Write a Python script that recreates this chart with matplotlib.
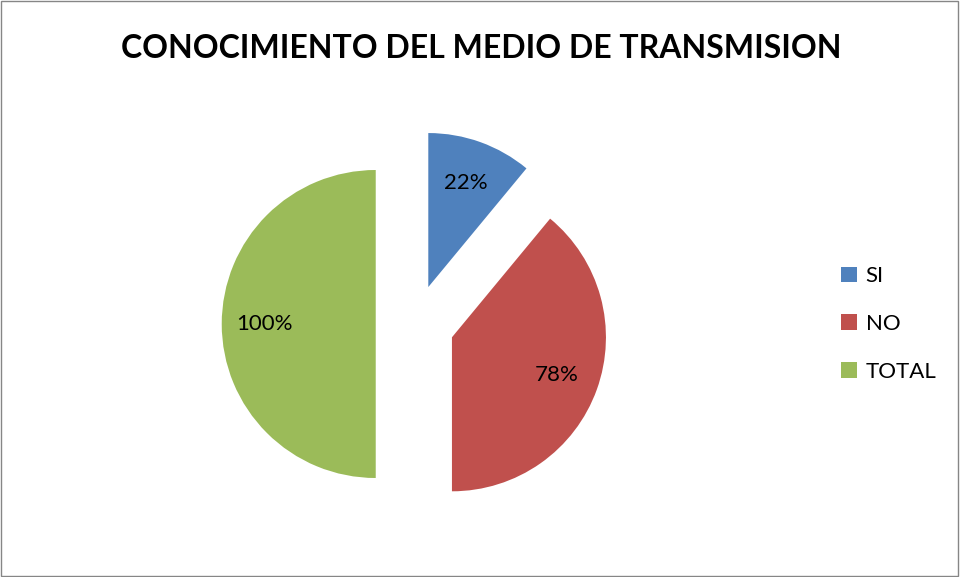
import matplotlib
matplotlib.use('Agg')
import matplotlib.pyplot as plt
from matplotlib.patches import Rectangle

plt.rcParams['font.family'] = ['Lato', 'DejaVu Sans']

titulo = 'CONOCIMIENTO DEL MEDIO DE TRANSMISION'
categorias = ['SI', 'NO', 'TOTAL']
valores = [22, 78, 100]
colores = ['#4F81BD', '#C0504D', '#9BBB59']

total = sum(valores)

fig = plt.figure(figsize=(9.61, 5.77), dpi=100)

# pie centre ~ (415, 324) px, radius ~154 px
r_px = 154
lim = 1.4
size = 2 * lim * r_px
ax = fig.add_axes([(415 - size / 2) / 961, (253 - size / 2) / 577, size / 961, size / 577])

wedges, textos, auto = ax.pie(
    valores, colors=colores, startangle=90, counterclock=False,
    explode=[0.255] * 3, pctdistance=0.72,
    autopct=lambda p: '{:.0f}%'.format(p * total / 100),
    textprops={'fontsize': 16, 'color': 'black'},
)
ax.set_xlim(-lim, lim)
ax.set_ylim(-lim, lim)
ax.set_aspect('equal')
ax.axis('off')

fig.text(481 / 961, 1 - 48 / 577, titulo, ha='center', va='center',
         fontsize=23, fontweight='bold')

fig.legend(wedges, categorias, loc='center left', bbox_to_anchor=(830 / 961, 1 - 324 / 577),
           frameon=False, fontsize=16, handlelength=0.7, handleheight=0.7,
           handletextpad=0.4, labelspacing=1.25, borderpad=0)

fig.patches.append(Rectangle((0.001, 0.002), 0.996, 0.996, transform=fig.transFigure,
                             fill=False, edgecolor='#868686', linewidth=1))

fig.savefig('out.png', dpi=100)
